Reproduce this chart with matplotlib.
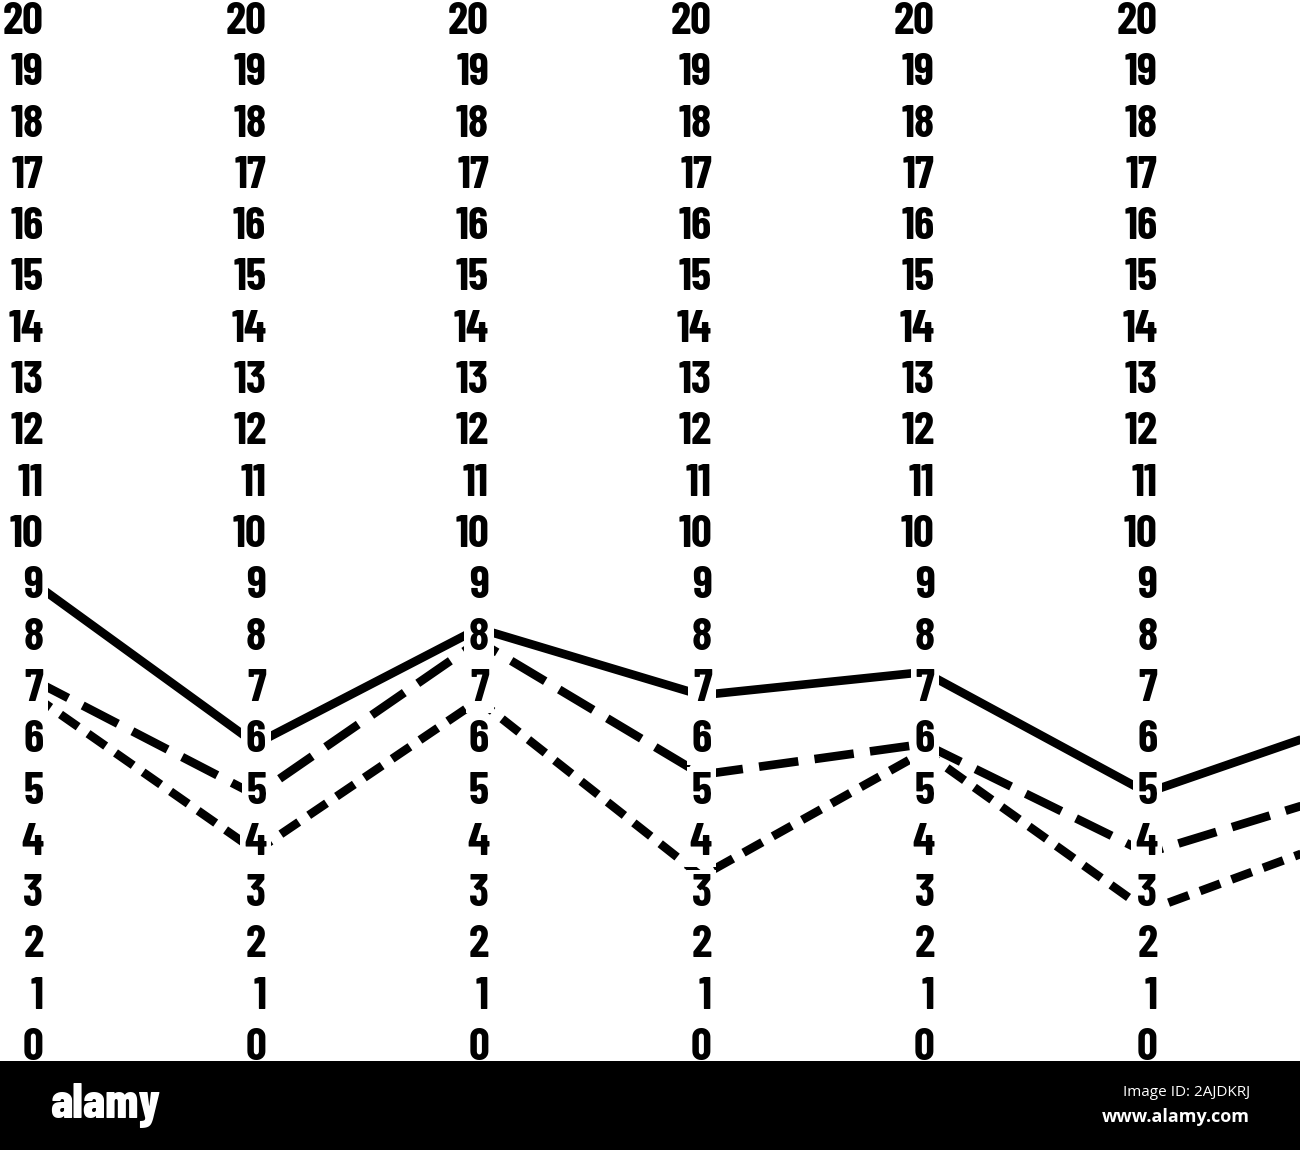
import matplotlib
matplotlib.use("Agg")
import matplotlib.pyplot as plt
from matplotlib import font_manager as fm

# Data
columns = [0, 1, 2, 3, 4, 5, 6]          # column index (last one falls beyond the right edge)
scale_values = list(range(0, 21))         # printed scale in every column
solid = [9.0, 5.85, 8.1, 6.8, 7.25, 4.9, 6.4]
long_dash = [7.1, 4.85, 7.85, 5.25, 5.85, 3.72, 5.05]
short_dash = [6.8, 3.76, 6.7, 3.27, 5.7, 2.6, 4.2]
n_scale_cols = 6

W, H = 1300, 1150
fig = plt.figure(figsize=(W / 100, H / 100), dpi=100)
fig.patch.set_facecolor("white")

num_font = fm.FontProperties(family=["Barlow Condensed", "DejaVu Sans"], weight="bold", size=33)

bar_h = 89
ax = fig.add_axes([0, bar_h / H, 1, 1 - bar_h / H])
ax.set_axis_off()

px_x = 222.8
px_y = 51.3
ax_h = H - bar_h
xlo = -33 / px_x
ax.set_xlim(xlo, xlo + W / px_x)
ylo = -17 / px_y
ax.set_ylim(ylo, ylo + ax_h / px_y)

for c in range(n_scale_cols):
    for v in scale_values:
        ax.annotate(str(v), xy=(c, v), xytext=(7.5, 0), textcoords="offset points",
                    ha="right", va="center_baseline", fontproperties=num_font,
                    color="black", zorder=3,
                    bbox=dict(boxstyle="square,pad=0.1", fc="white", ec="none"))

lw = 6.2
ax.plot(columns, solid, color="black", lw=lw, solid_capstyle="butt", zorder=2)
ax.plot(columns, long_dash, color="black", lw=lw, linestyle=(0, (4.6, 1.9)),
        dash_capstyle="butt", zorder=2)
ax.plot(columns, short_dash, color="black", lw=lw, linestyle=(0, (2.5, 1.4)),
        dash_capstyle="butt", zorder=2)

# watermark bar
bar = fig.add_axes([0, 0, 1, bar_h / H])
bar.set_facecolor("black")
bar.set_xticks([]); bar.set_yticks([])
for s in bar.spines.values():
    s.set_visible(False)
bar.set_xlim(0, W); bar.set_ylim(bar_h, 0)
logo_font = fm.FontProperties(family=["Barlow Condensed", "DejaVu Sans"], weight="heavy", size=35)
bar.text(50, 44, "alamy", color="white", fontproperties=logo_font, ha="left", va="center")
bar.text(1250, 32, "Image ID: 2AJDKRJ", color="white", fontsize=11,
         family=["Open Sans", "DejaVu Sans"], ha="right", va="center")
bar.text(1250, 56, "www.alamy.com", color="white", fontsize=13, fontweight="bold",
         family=["Open Sans", "DejaVu Sans"], ha="right", va="center")

fig.savefig("out.png", dpi=100, facecolor="white")
